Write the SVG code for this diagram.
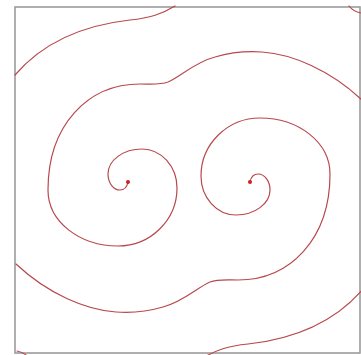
<svg xmlns="http://www.w3.org/2000/svg" width="361" height="355" viewBox="0 0 361 355">
<style>
.c{fill:none;stroke:#b8484c;stroke-width:1.2;stroke-linecap:round}
.d{fill:#cc1f1f}
</style>
<defs>
<g id="half">
<path class="c" d="M128,182 C127,187 124,190 120,190 C113.4,190 108,182.8 108,174 C108,160.3 123.3,149 142,149 C161.3,149 177,166.5 177,188 C177,220 150.5,246 118,246 C79.5,246 48,221.7 48,190 C48,125 88,84 140,84 C152,84 160,85 168,82 C180,77 195,62 215,57 C232,52 248,51 262,52 C292,54 330,70 362,100"/>
<path class="c" d="M15,75 C45,40 85,25 130,20 C150,18 162,14 175,6"/>
<path class="c" d="M349,6 C352,10 356,12 361,13"/>
<circle class="d" cx="128" cy="182" r="2"/>
</g>
</defs>
<rect x="15" y="7" width="345" height="346" fill="#fff" stroke="#9c9c9c" stroke-width="1.6"/>
<g id="left-spiral"><use href="#half"/></g>
<g id="right-spiral"><use href="#half" transform="rotate(180 189 182)"/></g>
</svg>
